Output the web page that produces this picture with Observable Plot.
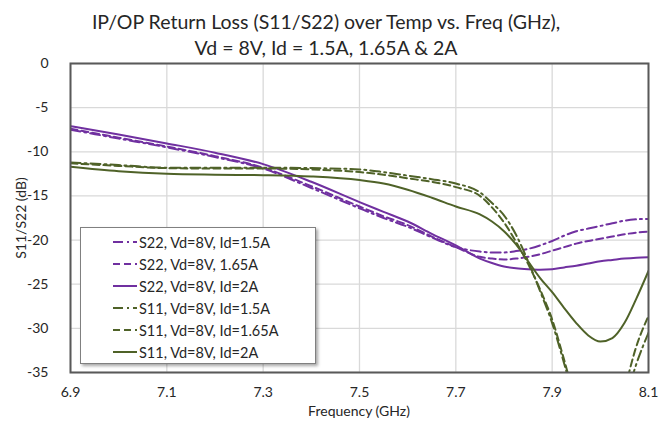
<!DOCTYPE html>
<html>
<head>
<meta charset="utf-8">
<script src="https://cdn.jsdelivr.net/npm/d3@7"></script>
<script src="https://cdn.jsdelivr.net/npm/@observablehq/plot@0.6"></script>
<style>
  html, body { margin: 0; padding: 0; background: #fff; }
  #wrap { position: relative; width: 671px; height: 424px; font-family: Lato, "Open Sans", sans-serif; color: #262626; }
  #title { position: absolute; left: 0; top: 0; width: 652px; padding-top: 9px; text-align: center; font-size: 19.5px; line-height: 26px; color: #262626; }
  #chart { padding-top: 46px; }
  #xlabel { position: absolute; left: 0; width: 718px; top: 402px; text-align: center; font-size: 14px; }
  #ylabel { position: absolute; left: 20px; top: 218px; transform: translate(-50%, -50%) rotate(-90deg); font-size: 14px; white-space: nowrap; }
  #legend { position: absolute; left: 80px; top: 227px; width: 236px; height: 137px; box-sizing: border-box; background: #fff; border: 1px solid #808080; box-shadow: 2px 2px 3px rgba(0,0,0,0.35); padding-top: 3px; }
  .row { height: 22px; display: flex; align-items: center; font-size: 14.5px; color: #262626; }
  .row svg { margin-left: 32px; margin-right: 2px; }
</style>
</head>
<body>
<div id="wrap">
  <div id="chart"></div>
  <div id="title">IP/OP Return Loss (S11/S22) over Temp vs. Freq (GHz),<br>Vd = 8V, Id = 1.5A, 1.65A &amp; 2A</div>
  <div id="xlabel">Frequency (GHz)</div>
  <div id="ylabel">S11/S22 (dB)</div>
  <div id="legend"></div>
</div>
<script>
// Frequency samples (GHz)
const freq = [6.9, 7.0, 7.1, 7.2, 7.3, 7.4, 7.5, 7.55, 7.6, 7.65, 7.7, 7.75, 7.775, 7.8, 7.825, 7.85, 7.875, 7.9, 7.925, 7.95, 7.975, 8.0, 8.025, 8.05, 8.075, 8.1];

// S22 (dB)
const s22_id15  = [-7.5, -8.5, -9.5, -10.6, -11.9, -14.1, -16.4, -17.5, -18.5, -19.7, -20.8, -21.3, -21.4, -21.4, -21.25, -21.0, -20.6, -20.1, -19.5, -19.0, -18.7, -18.4, -18.1, -17.8, -17.65, -17.6];
const s22_id165 = [-7.4, -8.4, -9.4, -10.5, -11.8, -13.9, -16.2, -17.3, -18.3, -19.6, -20.8, -21.9, -22.1, -22.2, -22.1, -21.9, -21.6, -21.2, -20.8, -20.4, -20.1, -19.85, -19.6, -19.35, -19.15, -19.05];
const s22_id2   = [-7.1, -8.05, -9.05, -10.1, -11.4, -13.4, -15.7, -16.8, -17.9, -19.3, -20.6, -22.1, -22.6, -23.0, -23.2, -23.3, -23.35, -23.3, -23.1, -22.9, -22.65, -22.4, -22.25, -22.1, -22.0, -21.95];

// S11 (dB)
const s11_id15  = [-11.2, -11.5, -11.8, -11.8, -11.8, -11.85, -12.0, -12.3, -12.7, -13.1, -13.6, -14.6, -15.8, -17.2, -19.4, -22.4, -25.8, -29.4, -34.0, -39, -43, -45, -43, -38.5, -34, -30.5];
const s11_id165 = [-11.3, -11.6, -11.85, -11.9, -11.9, -12.0, -12.3, -12.6, -13.0, -13.4, -14.0, -15.0, -16.3, -18.0, -20.2, -22.7, -25.6, -29.0, -33.6, -38.5, -42, -44, -42, -37, -32, -28.6];
const s11_id2   = [-11.7, -12.2, -12.5, -12.6, -12.65, -12.8, -13.2, -13.6, -14.3, -15.2, -16.2, -17.1, -17.9, -19.0, -20.5, -22.4, -24.3, -25.9, -27.7, -29.4, -30.8, -31.5, -31.1, -29.4, -26.6, -23.5];

const seriesNames = ["S22, Vd=8V, Id=1.5A", "S22, Vd=8V, 1.65A", "S22, Vd=8V, Id=2A", "S11, Vd=8V, Id=1.5A", "S11, Vd=8V, Id=1.65A", "S11, Vd=8V, Id=2A"];
const seriesValues = [s22_id15, s22_id165, s22_id2, s11_id15, s11_id165, s11_id2];

const xTicks = [6.9, 7.1, 7.3, 7.5, 7.7, 7.9, 8.1];
const yTicks = [0, -5, -10, -15, -20, -25, -30, -35];

const PURPLE = "#7030a0", GREEN = "#4f6228";
const styles = [
  {color: PURPLE, dash: "10,4,2,4"},
  {color: PURPLE, dash: "7,4"},
  {color: PURPLE, dash: null},
  {color: GREEN, dash: "10,4,2,4"},
  {color: GREEN, dash: "7,4"},
  {color: GREEN, dash: null}
];

const lineMarks = seriesNames.map((name, k) => {
  const rows = freq.map((f, i) => ({f, v: seriesValues[k][i], name}));
  return Plot.line(rows, {x: "f", y: "v", stroke: styles[k].color, strokeWidth: 2,
    strokeDasharray: styles[k].dash || undefined, curve: "monotone-x", clip: true});
});

const chart = Plot.plot({
  width: 671, height: 378,
  marginLeft: 70, marginRight: 23, marginTop: 17, marginBottom: 52,
  style: {fontFamily: "Lato, 'Open Sans', sans-serif", fontSize: "14px", color: "#262626", background: "#fff"},
  x: {domain: [6.9, 8.1], ticks: xTicks, tickFormat: d => d.toFixed(1), tickSize: 0, tickPadding: 15, label: null},
  y: {domain: [-35, 0], ticks: yTicks, tickFormat: d => String(d), tickSize: 0, tickPadding: 22, label: null},
  marks: [
    Plot.gridX(xTicks, {stroke: "#d9d9d9", strokeOpacity: 1, strokeWidth: 1.3}),
    Plot.gridY(yTicks, {stroke: "#d9d9d9", strokeOpacity: 1, strokeWidth: 1.3}),
    ...lineMarks,
    Plot.frame({stroke: "#595959", strokeWidth: 2})
  ]
});
document.getElementById("chart").appendChild(chart);

// Legend
const legend = document.getElementById("legend");
seriesNames.forEach((name, k) => {
  const row = document.createElement("div");
  row.className = "row";
  const dash = styles[k].dash ? ` stroke-dasharray="${styles[k].dash}"` : "";
  row.innerHTML = `<svg width="24" height="10"><line x1="0" y1="5" x2="24" y2="5" stroke="${styles[k].color}" stroke-width="2"${dash}/></svg><span>${name}</span>`;
  legend.appendChild(row);
});
</script>
</body>
</html>
